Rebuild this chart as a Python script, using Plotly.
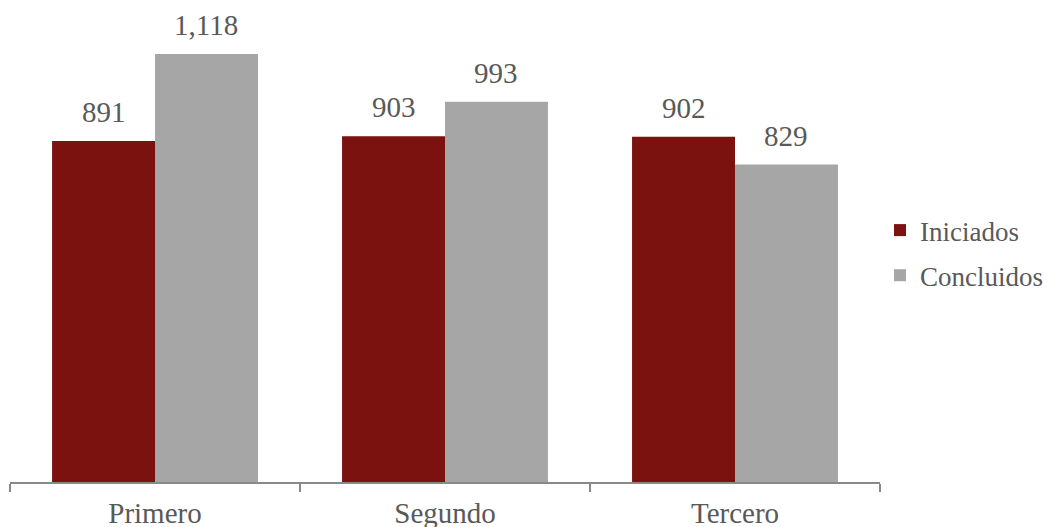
import plotly.graph_objects as go

categories = ["Primero", "Segundo", "Tercero"]
iniciados = [891, 903, 902]
concluidos = [1118, 993, 829]
series = [("Iniciados", iniciados, "#7B1210"), ("Concluidos", concluidos, "#A6A6A6")]

FONT = "Liberation Serif"
BARGAP = 0.29
PLOT_W = 1047 - 10 - 167

fig = go.Figure()
for name, vals, color in series:
    fig.add_trace(go.Bar(
        name=name, x=categories, y=vals, legendgroup=name,
        marker=dict(color=color, line=dict(width=0)),
        hoverinfo="skip",
    ))

bar_px = PLOT_W / len(categories) * (1 - BARGAP) / len(series)
for i, (name, vals, color) in enumerate(series):
    shift = (i - (len(series) - 1) / 2) * bar_px
    for c, v in zip(categories, vals):
        fig.add_annotation(
            x=c, y=v, text=f"{v:,}", showarrow=False,
            xanchor="center", yanchor="bottom", xshift=shift, yshift=11,
            font=dict(family=FONT, size=29, color="#595959"),
        )

fig.update_layout(
    width=1047, height=527,
    margin=dict(l=10, r=167, t=0, b=45, autoexpand=False),
    barmode="group", bargap=BARGAP, bargroupgap=0,
    plot_bgcolor="white", paper_bgcolor="white",
    font=dict(family=FONT, color="#595959"),
    showlegend=True,
    legend=dict(x=1.0, y=0.475, xanchor="left", yanchor="middle",
                font=dict(family=FONT, size=27, color="#595959"),
                tracegroupgap=7, itemwidth=30),
)
fig.update_xaxes(
    showline=True, linecolor="#898989", linewidth=1.5,
    ticks="outside", tickson="boundaries", ticklen=8, tickcolor="#898989", tickwidth=1.5,
    tickfont=dict(family=FONT, size=29, color="#595959"), ticklabelstandoff=4,
    showgrid=False, automargin=False,
)
fig.update_yaxes(range=[0, 1259], visible=False, showgrid=False)
fig.write_html("out.html", config={"displayModeBar": False},
               post_script="document.body.style.margin='0';document.body.style.overflow='hidden';")
